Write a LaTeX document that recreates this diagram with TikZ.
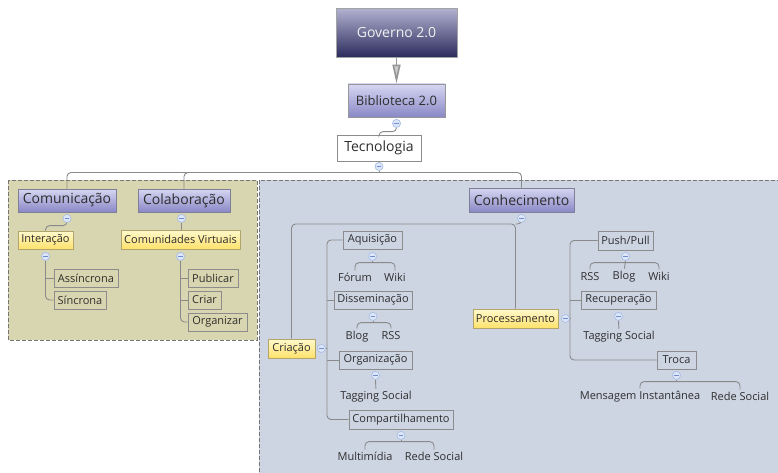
\documentclass[tikz,border=0pt]{standalone}
\usepackage{fontspec}
\setmainfont{Open Sans}
\usetikzlibrary{arrows.meta}

\definecolor{linegray}{HTML}{8A8A8A}
\definecolor{boxgray}{HTML}{8C8C8C}
\definecolor{txt}{HTML}{2E2E2E}
\definecolor{khaki}{HTML}{D8D6B0}
\definecolor{bluebg}{HTML}{CDD5E3}
\definecolor{dashgray}{HTML}{767676}
\definecolor{govTop}{HTML}{B2B1D0}
\definecolor{govBot}{HTML}{2A2A5C}
\definecolor{purTop}{HTML}{D6D6F2}
\definecolor{purBot}{HTML}{8A88C6}
\definecolor{purLine}{HTML}{7E7E96}
\definecolor{yelTop}{HTML}{FFF9CC}
\definecolor{yelBot}{HTML}{FFE26C}
\definecolor{yelLine}{HTML}{B3A46C}
\definecolor{foldFill}{HTML}{DCE6F8}
\definecolor{foldLine}{HTML}{A6BCE4}
\definecolor{foldMinus}{HTML}{6F8FCB}

\tikzset{
  mmconn/.style={draw=linegray, line width=0.9pt, rounded corners=4pt},
  mmbox/.style={draw=boxgray, line width=0.8pt, inner sep=0pt, text=txt,
    font=\fontsize{11}{13}\selectfont},
  mmtopic/.style={mmbox, top color=purTop, bottom color=purBot, draw=purLine,
    font=\fontsize{14}{16}\selectfont},
  mmnote/.style={mmbox, top color=yelTop, bottom color=yelBot, draw=yelLine},
  mmleaf/.style={inner sep=0pt, text=txt, font=\fontsize{11}{13}\selectfont,
    text height=8pt, text depth=2.5pt},
  mmfold/.style={circle, minimum size=8pt, inner sep=0pt, fill=foldFill,
    draw=foldLine, line width=0.5pt,
    path picture={\draw[foldMinus, line width=0.6pt]
      ([xshift=-2.2pt]path picture bounding box.center) --
      ([xshift=2.2pt]path picture bounding box.center);}},
  mmregion/.style={draw=dashgray, line width=1pt, dash pattern=on 4pt off 2pt}
}

\begin{document}
\begin{tikzpicture}[x=1pt,y=-1pt]
\useasboundingbox (0,0) rectangle (778,473);
\clip (0,0) rectangle (778,473);

% background areas
\fill[white] (0,0) rectangle (778,473);
\path[mmregion, fill=khaki] (8,180) rectangle (257,340);
\path[mmregion, fill=bluebg] (259,180) rectangle (800,500);

% central chain
\node[mmbox, top color=govTop, bottom color=govBot, draw=boxgray!80,
  minimum width=121pt, minimum height=49pt, text=white!94!black,
  font=\fontsize{14}{16}\selectfont] (gov) at (396.5,33) {Governo 2.0};
\node[mmbox, top color=purTop, bottom color=purBot, draw=boxgray!90,
  minimum width=97pt, minimum height=33pt,
  font=\fontsize{13}{15}\selectfont] (bib) at (396.5,100.5) {Biblioteca 2.0};
\node[mmbox, fill=white, minimum width=84pt, minimum height=26pt,
  font=\fontsize{14}{16}\selectfont] (tec) at (379,148) {Tecnologia};

% main branches
\node[mmtopic, minimum width=98pt, minimum height=23pt] (comu) at (67,200.5) {Comunicação};
\node[mmtopic, minimum width=92pt, minimum height=23pt] (cola) at (184,200.5) {Colaboração};
\node[mmtopic, minimum width=105pt, minimum height=24pt] (conh) at (521.5,200) {Conhecimento};

% Comunicacao / Colaboracao
\node[mmnote, minimum width=55pt, minimum height=18pt] (inte) at (45.5,240) {Interação};
\node[mmnote, minimum width=119pt, minimum height=19pt] (cvir) at (180.5,239.5) {Comunidades Virtuais};
\node[mmbox, minimum width=64pt, minimum height=18pt] (assi) at (86,278) {Assíncrona};
\node[mmbox, minimum width=52pt, minimum height=18pt] (sinc) at (80,300) {Síncrona};
\node[mmbox, minimum width=50pt, minimum height=18pt] (publ) at (213,278) {Publicar};
\node[mmbox, minimum width=33pt, minimum height=18pt] (cria) at (204.5,300) {Criar};
\node[mmbox, minimum width=59pt, minimum height=18pt] (orgn) at (217.5,322) {Organizar};

% Conhecimento
\node[mmnote, minimum width=47pt, minimum height=19pt] (crio) at (291.5,348.5) {Criação};
\node[mmnote, minimum width=85pt, minimum height=19pt] (proc) at (515.5,318.5) {Processamento};

\node[mmbox, minimum width=59pt, minimum height=18pt] (aqui) at (372.5,240) {Aquisição};
\node[mmbox, minimum width=78pt, minimum height=18pt] (diss) at (373,300) {Disseminação};
\node[mmbox, minimum width=73pt, minimum height=18pt] (orgz) at (375.5,360) {Organização};
\node[mmbox, minimum width=104pt, minimum height=19pt] (comp) at (401,419.5) {Compartilhamento};

\node[mmbox, minimum width=55pt, minimum height=19pt] (push) at (625.5,240.5) {Push/Pull};
\node[mmbox, minimum width=75pt, minimum height=18pt] (recu) at (618.5,300) {Recuperação};
\node[mmbox, minimum width=39pt, minimum height=18pt] (troc) at (676.5,360) {Troca};

% leaf labels
\node[mmleaf] (foru) at (355,279) {Fórum};
\node[mmleaf] (wik1) at (395,279) {Wiki};
\node[mmleaf] (blg1) at (357,337) {Blog};
\node[mmleaf] (rss1) at (391,337) {RSS};
\node[mmleaf] (tag1) at (376,397) {Tagging Social};
\node[mmleaf] (mult) at (365,458) {Multimídia};
\node[mmleaf] (red1) at (434,458) {Rede Social};
\node[mmleaf] (rss2) at (590,278) {RSS};
\node[mmleaf] (blg2) at (624,277) {Blog};
\node[mmleaf] (wik2) at (659,278) {Wiki};
\node[mmleaf] (tag2) at (619,337) {Tagging Social};
\node[mmleaf] (mens) at (640,397) {Mensagem Instantânea};
\node[mmleaf] (red2) at (740,398) {Rede Social};

% collapse markers
\node[mmfold] (fbib) at ([yshift=-6pt]bib.south) {};
\node[mmfold] (ftec) at ([yshift=-5pt]tec.south) {};
\node[mmfold] (fcomu) at ([yshift=-6pt]comu.south) {};
\node[mmfold] (fcola) at ([yshift=-6pt,xshift=-2.5pt]cola.south) {};
\node[mmfold] (fconh) at ([yshift=-6pt]conh.south) {};
\node[mmfold] (finte) at ([yshift=-7pt]inte.south) {};
\node[mmfold] (fcvir) at ([yshift=-7pt]cvir.south) {};
\node[mmfold] (fcrio) at ([xshift=6pt]crio.east) {};
\node[mmfold] (fproc) at ([xshift=7pt]proc.east) {};
\node[mmfold] (faqui) at ([yshift=-7pt]aqui.south) {};
\node[mmfold] (fdiss) at ([yshift=-7pt]diss.south) {};
\node[mmfold] (forgz) at ([yshift=-6pt]orgz.south) {};
\node[mmfold] (fcomp) at ([yshift=-6pt]comp.south) {};
\node[mmfold] (fpush) at ([yshift=-6pt]push.south) {};
\node[mmfold] (frecu) at ([yshift=-7pt]recu.south) {};
\node[mmfold] (ftroc) at ([yshift=-6pt]troc.south) {};

% junction points
\coordinate (hub) at (379,172.5);
\coordinate (khub) at (515.5,224);
\coordinate (cspine) at (327,300);
\coordinate (pspine) at (570,300);

% connectors
\draw[draw=linegray!90, line width=1.6pt,
  -{Triangle[length=19pt,width=8pt,fill=linegray!45]}] (gov.south) -- (bib.north);

\draw[mmconn] (fbib.south) -- ++(0,4) -| (tec.north);
\draw[mmconn] (ftec.south) -- (hub);
\draw[mmconn] (comu.north) |- (hub) -| (conh.north);
\draw[mmconn] (cola.north) |- (hub);

\draw[mmconn] (fcomu.south) -- ++(0,3) -| (inte.north);
\draw[mmconn] (fcola.south) -- (fcola.south |- cvir.north);
\draw[mmconn] (finte.south) |- (sinc.west);
\draw[mmconn] (assi.west) -- (assi.west -| finte.south);
\draw[mmconn] (fcvir.south) |- (orgn.west);
\draw[mmconn] (publ.west) -- (publ.west -| fcvir.south);
\draw[mmconn] (cria.west) -- (cria.west -| fcvir.south);

\draw[mmconn] (crio.north) |- (khub) -- (proc.north);
\draw[mmconn] (fconh.south) |- (khub);

\draw[mmconn] (aqui.west) -| (cspine) |- (comp.west);
\draw[mmconn] (diss.west) -- (diss.west -| cspine);
\draw[mmconn] (orgz.west) -- (orgz.west -| cspine);
\draw[mmconn] (fcrio.east) -- (fcrio.east -| cspine);

\draw[mmconn] (push.west) -| (pspine) |- (troc.west);
\draw[mmconn] (recu.west) -- (recu.west -| pspine);
\draw[mmconn] (fproc.east) -- (fproc.east -| pspine);

\draw[mmconn, shorten <=3pt, shorten >=3pt] (foru.north) |- ([yshift=-2pt]faqui.south) -| (wik1.north);
\draw[mmconn] (faqui.south) -- ([yshift=-2pt]faqui.south);
\draw[mmconn, shorten <=3pt, shorten >=3pt] (blg1.north) |- ([yshift=-2pt]fdiss.south) -| (rss1.north);
\draw[mmconn] (fdiss.south) -- ([yshift=-2pt]fdiss.south);
\draw[mmconn, shorten >=3pt] (forgz.south) -- (tag1.north);
\draw[mmconn, shorten <=3pt, shorten >=3pt] (mult.north) |- ([yshift=-2pt]fcomp.south) -| (red1.north);
\draw[mmconn] (fcomp.south) -- ([yshift=-2pt]fcomp.south);

\draw[mmconn, shorten <=3pt, shorten >=3pt] (rss2.north) |- ([yshift=-2pt]fpush.south) -| (wik2.north);
\draw[mmconn, shorten >=3pt] (fpush.south) -- (blg2.north);
\draw[mmconn, shorten >=3pt] (frecu.south) -- (tag2.north);
\draw[mmconn, shorten <=3pt, shorten >=3pt] (mens.north) |- ([yshift=-2pt]ftroc.south) -| (red2.north);
\draw[mmconn] (ftroc.south) -- ([yshift=-2pt]ftroc.south);

% markers drawn again on top of the lines
\foreach \f in {fbib,ftec,fcomu,fcola,fconh,finte,fcvir,fcrio,fproc,faqui,fdiss,forgz,fcomp,fpush,frecu,ftroc}
  \node[mmfold] at (\f) {};
\end{tikzpicture}
\end{document}
